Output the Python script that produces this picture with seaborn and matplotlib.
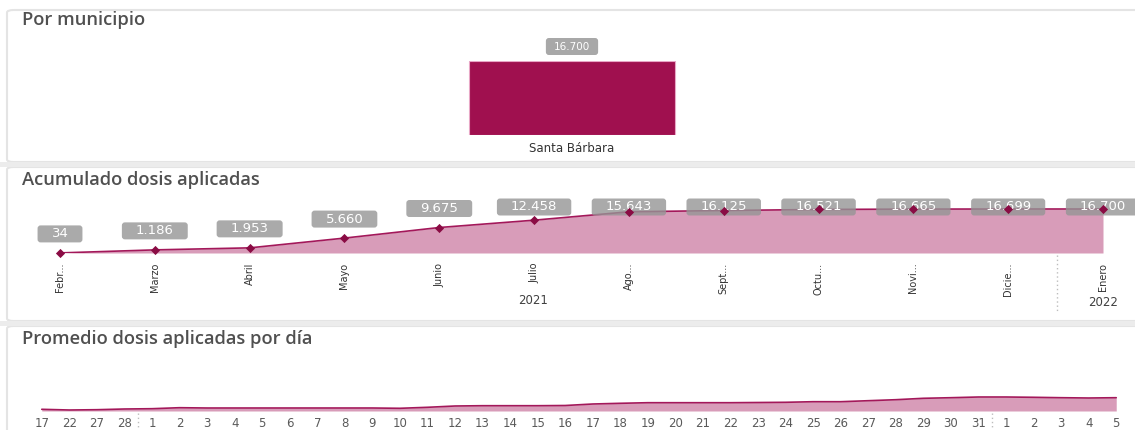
import numpy as np
import pandas as pd
import matplotlib
matplotlib.use("Agg")
import matplotlib.pyplot as plt
import seaborn as sns
from matplotlib.patches import FancyBboxPatch, Rectangle
from matplotlib.lines import Line2D
from matplotlib.transforms import IdentityTransform

# ---------------- data ----------------
municipios = ["Santa Bárbara"]
dosis_municipio = [16700]

meses = ["Febr...", "Marzo", "Abril", "Mayo", "Junio", "Julio",
         "Ago...", "Sept...", "Octu...", "Novi...", "Dicie...", "Enero"]
acumulado = [34, 1186, 1953, 5660, 9675, 12458, 15643, 16125, 16521, 16665, 16699, 16700]
anios = ["2021", "2022"]

dias = ["17", "22", "27", "28",
        "1", "2", "3", "4", "5", "6", "7", "8", "9", "10",
        "11", "12", "13", "14", "15", "16", "17", "18", "19", "20",
        "21", "22", "23", "24", "25", "26", "27", "28", "29", "30", "31",
        "1", "2", "3", "4", "5"]
promedio = [1.7, 1.0, 1.3, 2.0,
            2.3, 3.3, 3.0, 3.0, 3.0, 3.0, 3.0, 3.0, 3.0, 2.7,
            3.7, 5.0, 5.3, 5.3, 5.3, 5.5, 7.0, 7.7, 8.3, 8.3,
            8.3, 8.3, 8.5, 8.7, 9.3, 9.3, 10.3, 11.3, 12.7, 13.3, 14.0,
            14.0, 13.7, 13.3, 13.0, 13.3]

# ---------------- style ----------------
sns.set_theme(style="white")
plt.rcParams["font.family"] = ["DejaVu Sans"]

W, H = 1135, 430
fig = plt.figure(figsize=(W / 100, H / 100), dpi=100)
fig.patch.set_facecolor("white")

BAR = "#A0104F"
LINE = "#A3185A"
FILL = "#D89CB9"
MARK = "#8A0C44"
TITLE = "#505050"
TXT = "#404040"


def px_axes(x0, y0, x1, y1):
    return fig.add_axes([x0 / W, 1 - y1 / H, (x1 - x0) / W, (y1 - y0) / H])


def fmt(v):
    return f"{v:,}".replace(",", ".")


# card backgrounds
for (y0, y1) in [(10, 162), (167, 321), (326, 440)]:
    fig.add_artist(FancyBboxPatch((7 / W, 1 - y1 / H), (W + 20) / W, (y1 - y0) / H,
                                  boxstyle="round,pad=0,rounding_size=0.006",
                                  transform=fig.transFigure, facecolor="white",
                                  edgecolor="#e4e4e4", lw=1.5, zorder=-10))
for (y0, y1) in [(162, 167), (321, 326)]:
    fig.add_artist(Rectangle((0, 1 - y1 / H), 1, (y1 - y0) / H, transform=fig.transFigure,
                             facecolor="#ececec", edgecolor="none", zorder=-9))

title_kw = dict(fontsize=13.2, fontweight="semibold", color=TITLE, va="center", ha="left",
                family=["Open Sans", "DejaVu Sans"])
fig.text(22 / W, 1 - 20 / H, "Por municipio", **title_kw)
fig.text(22 / W, 1 - 180 / H, "Acumulado dosis aplicadas", **title_kw)
fig.text(22 / W, 1 - 339 / H, "Promedio dosis aplicadas por día", **title_kw)

fig.canvas.draw()
renderer = fig.canvas.get_renderer()


def label_box(ax, xd, yd, s, fs, padx, h, fc, alpha, z):
    """Value label box inside ax, at display pixel coords (origin bottom-left)."""
    t = ax.text(xd, yd, s, ha="center", va="center", fontsize=fs, color="white",
                transform=IdentityTransform(), zorder=z + 1, clip_on=False)
    w = t.get_window_extent(renderer).width + 2 * padx
    p = FancyBboxPatch((xd - w / 2, yd - h / 2), w, h,
                       boxstyle="round,pad=0,rounding_size=3",
                       transform=IdentityTransform(), facecolor=fc,
                       alpha=alpha, edgecolor="none", zorder=z, clip_on=False)
    ax.add_artist(p)


# ---------------- panel 1: bar ----------------
ax1 = px_axes(443.25, 61, 700.75, 135)
df1 = pd.DataFrame({"municipio": municipios, "dosis": dosis_municipio})
sns.barplot(data=df1, x="municipio", y="dosis", color=BAR, saturation=1, width=0.8,
            edgecolor="#E8A7C6", linewidth=0.8, ax=ax1)
ax1.set_xlim(-0.5, 0.5)
ax1.set_ylim(0, max(dosis_municipio))
ax1.set_xlabel("")
ax1.set_ylabel("")
ax1.set_yticks([])
ax1.tick_params(axis="x", length=0, pad=5, labelsize=8.5, labelcolor="#333333")
for s in ax1.spines.values():
    s.set_visible(False)
ax1.patch.set_alpha(0)
fig.canvas.draw()
for i, v in enumerate(dosis_municipio):
    dx, dy = ax1.transData.transform((i, v))
    label_box(ax1, dx, dy + 14.5, fmt(v), 7.5, 8, 17, "#A8A8A8", 1.0, 10)

# ---------------- panel 2: cumulative ----------------
idx = np.arange(len(meses))
ax2 = px_axes(12, 200, 1135, 253)
step = (1103 - 60) / 11
ax2.set_xlim(-(60 - 12) / step, 11 + (1135 - 1103) / step)
ax2.set_ylim(0, max(acumulado) * 53 / 44)
ax2.fill_between(idx, acumulado, 0, color=FILL, lw=0, zorder=1)
df2 = pd.DataFrame({"mes": idx, "dosis": acumulado})
sns.lineplot(data=df2, x="mes", y="dosis", color=LINE, lw=1.2, ax=ax2, zorder=5)
ax2.set_xticks(idx)
ax2.set_xticklabels(meses, rotation=90, fontsize=7, color="#333333")
ax2.tick_params(axis="x", length=0, pad=7)
ax2.set_yticks([])
ax2.set_xlabel("")
ax2.set_ylabel("")
for s in ax2.spines.values():
    s.set_visible(False)
ax2.patch.set_alpha(0)
fig.canvas.draw()
clamp = H - 207
for i, v in enumerate(acumulado):
    dx, dy = ax2.transData.transform((i, v))
    ly = min(dy + 19, clamp)
    label_box(ax2, dx, ly, fmt(v), 9.5, 14, 17, "#959595", 0.8, 10)
# markers on top of boxes
sns.scatterplot(x=idx, y=acumulado, marker="D", s=22, color=MARK, edgecolor=MARK,
                linewidth=0, ax=ax2, zorder=20, clip_on=False)
ax2.set_xlim(-(60 - 12) / step, 11 + (1135 - 1103) / step)
ax2.set_ylim(0, max(acumulado) * 53 / 44)

fig.text(533 / W, 1 - 300 / H, anios[0], ha="center", va="center", fontsize=8.5, color=TXT)
fig.text(1103 / W, 1 - 303 / H, anios[1], ha="center", va="center", fontsize=8.5, color=TXT)
fig.add_artist(Line2D([1057 / W] * 2, [1 - 255 / H, 1 - 312 / H], ls=(0, (1, 2)),
                      color="#bdbdbd", lw=1, transform=fig.transFigure))

# ---------------- panel 3: daily average ----------------
didx = np.arange(len(dias))
ax3 = px_axes(28, 351, 1130, 411)
ax3.set_xlim(-0.5, len(dias) - 0.5)
ax3.set_ylim(0, 60)
ax3.fill_between(didx, promedio, 0, color=FILL, lw=0, zorder=1)
df3 = pd.DataFrame({"dia": didx, "promedio": promedio})
sns.lineplot(data=df3, x="dia", y="promedio", color=LINE, lw=1.2, ax=ax3, zorder=3)
ax3.set_xticks(didx)
ax3.set_xticklabels(dias, fontsize=8.5, color="#5a5a5a")
ax3.tick_params(axis="x", length=0, pad=4)
ax3.set_yticks([])
ax3.set_xlabel("")
ax3.set_ylabel("")
for s in ax3.spines.values():
    s.set_visible(False)
ax3.patch.set_alpha(0)
fig.canvas.draw()
for sep in [3.5, 34.5]:
    sx, _ = ax3.transData.transform((sep, 0))
    fig.add_artist(Line2D([sx / W] * 2, [1 - 413 / H, 1 - 429 / H], ls=(0, (1, 2)),
                          color="#bdbdbd", lw=1, transform=fig.transFigure))

fig.savefig("out.png", dpi=100, facecolor=fig.get_facecolor())
